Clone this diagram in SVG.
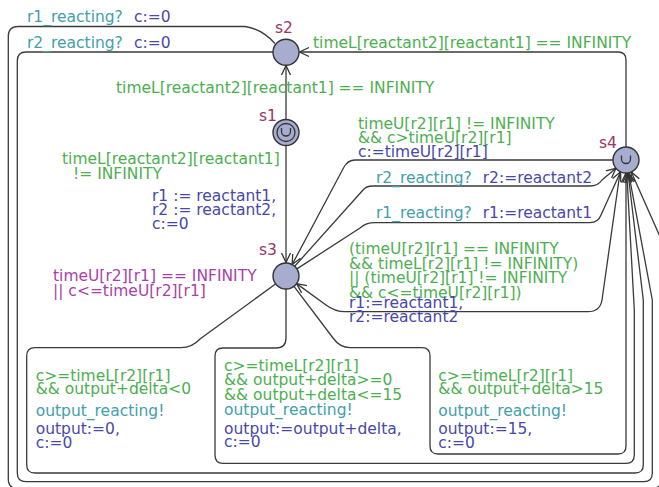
<svg xmlns="http://www.w3.org/2000/svg" width="659" height="487" viewBox="0 0 659 487">
<style>
text{font-family:"DejaVu Sans","Liberation Sans",sans-serif;font-size:15.5px}
.g{fill:#4caf50}
.s{fill:#41a0aa}
.u{fill:#4848aa}
.i{fill:#aa3faa}
.n{fill:#983566}
.e{fill:none;stroke:#3a3a3a;stroke-width:1.3}
.loc{fill:#a6adce;stroke:#333;stroke-width:1.4}
.mk{fill:none;stroke:#333;stroke-width:1.3}
</style>
<defs>
<marker id="arr" viewBox="-11 -6 12 12" refX="0" refY="0" markerWidth="12" markerHeight="12" markerUnits="userSpaceOnUse" orient="auto">
<path d="M-9.5,-4.5 L0,0 L-9.5,4.5" fill="none" stroke="#333" stroke-width="1.3"/>
</marker>
</defs>
<g id="connectors">
<path class="e" marker-end="url(#arr)" d="M286,119 L286,65.5"/>
<path class="e" marker-end="url(#arr)" d="M286,146 L286,262.5"/>
<path class="e" marker-end="url(#arr)" d="M626,147 L626,60 Q626,52 618,52 L299.5,52"/>
<path class="e" marker-end="url(#arr)" d="M275,43.5 Q262,29 245,26.5 L18,26.5 Q8.3,26.5 8.3,36 L8.3,479 Q8.3,488.5 18,488.5 L652,488.5 Q661.5,488.5 661.5,479 L661.5,240 L631.3,171.9"/>
<path class="e" marker-end="url(#arr)" d="M273,52 L26,52 Q17.3,52 17.3,61 L17.3,473 Q17.3,481.7 26,481.7 L644,481.7 Q652.3,481.7 652.3,473 L652.3,300 L628.6,172.8"/>
<path class="e" marker-end="url(#arr)" d="M613,160 L355,160 Q348,160 344,167 L292.2,264.5"/>
<path class="e" marker-end="url(#arr)" d="M620,172.5 L602,300 Q600,311.7 588,311.7 L345,311.7 Q335,311.7 326,305 L296.6,283.6"/>
<path class="e" marker-end="url(#arr)" d="M294.7,266.3 L363,190 Q366,186 373,186 L590,186 Q598,186 602,180 L616,168.3"/>
<path class="e" marker-end="url(#arr)" d="M296.9,268.9 L360,228 Q366,222.7 375,222.7 L590,222.7 Q598,222.7 601,215 L620.6,171.8"/>
<path class="e" marker-end="url(#arr)" d="M275.5,284 L200,339 Q192,347.7 181,347.7 L35,347.7 Q26.7,347.7 26.7,356 L26.7,465 Q26.7,473 35,473 L635,473 Q643.3,473 643.3,465 L643.3,300 L628,173"/>
<path class="e" marker-end="url(#arr)" d="M286,289 L286,338 Q286,348 276,348 L223,348 Q215,348 215,356 L215,455 Q215,463.3 223,463.3 L626,463.3 Q634.3,463.3 634.3,455 L634.3,310 L626.8,173"/>
<path class="e" marker-end="url(#arr)" d="M294,286.3 L333,338 Q340,347.7 350,347.7 L422,347.7 Q430,347.7 430,356 L430,446 Q430,454 438,454 L618,454 Q626,454 626,446 L626,173"/>
</g>
<g id="s1">
<circle class="loc" cx="286" cy="132.5" r="13"/>
<circle class="mk" cx="286" cy="132.5" r="9"/>
<path class="mk" d="M281.5,128 v3.5 a4.5,4.5 0 0 0 9,0 v-3.5"/>
<text class="n" x="259" y="120.5">s1</text>
</g>
<g id="s2">
<circle class="loc" cx="286" cy="52.3" r="13"/>
<text class="n" x="275" y="33">s2</text>
</g>
<g id="s3">
<circle class="loc" cx="286" cy="276" r="13"/>
<text class="n" x="259" y="255">s3</text>
<text class="i" x="53" y="281">timeU[r2][r1] == INFINITY</text>
<text class="i" x="53" y="295.5">|| c&lt;=timeU[r2][r1]</text>
</g>
<g id="s4">
<circle class="loc" cx="626" cy="160" r="13"/>
<path class="mk" d="M621.5,155.5 v3.5 a4.5,4.5 0 0 0 9,0 v-3.5"/>
<text class="n" x="599" y="147.5">s4</text>
</g>
<g id="labels">
<text class="s" x="27" y="22">r1_reacting?</text><text class="u" x="134" y="22">c:=0</text>
<text class="s" x="27" y="48">r2_reacting?</text><text class="u" x="134" y="48">c:=0</text>
<text class="g" x="313" y="48">timeL[reactant2][reactant1] == INFINITY</text>
<text class="g" x="116" y="93">timeL[reactant2][reactant1] == INFINITY</text>
<text class="g" x="62" y="164">timeL[reactant2][reactant1]</text>
<text class="g" x="73" y="179">!= INFINITY</text>
<text class="u" x="152" y="201">r1 := reactant1,</text>
<text class="u" x="152" y="215">r2 := reactant2,</text>
<text class="u" x="152" y="229">c:=0</text>
<text class="g" x="358" y="129">timeU[r2][r1] != INFINITY</text>
<text class="g" x="358" y="143">&amp;&amp; c&gt;timeU[r2][r1]</text>
<text class="u" x="358" y="157">c:=timeU[r2][r1]</text>
<text class="s" x="376" y="182.5">r2_reacting?</text><text class="u" x="482.7" y="182.5">r2:=reactant2</text>
<text class="s" x="376" y="218">r1_reacting?</text><text class="u" x="482.7" y="218">r1:=reactant1</text>
<text class="g" x="349" y="254">(timeU[r2][r1] == INFINITY</text>
<text class="g" x="349" y="268.5">&amp;&amp; timeL[r2][r1] != INFINITY)</text>
<text class="g" x="349" y="283">|| (timeU[r2][r1] != INFINITY</text>
<text class="g" x="349" y="297.5">&amp;&amp; c&lt;=timeU[r2][r1])</text>
<text class="u" x="349" y="308">r1:=reactant1,</text>
<text class="u" x="349" y="322">r2:=reactant2</text>
<text class="g" x="35.7" y="380.7">c&gt;=timeL[r2][r1]</text>
<text class="g" x="35.7" y="394.3">&amp;&amp; output+delta&lt;0</text>
<text class="s" x="35.7" y="415.7">output_reacting!</text>
<text class="u" x="35.7" y="434">output:=0,</text>
<text class="u" x="35.7" y="447.7">c:=0</text>
<text class="g" x="224" y="370.7">c&gt;=timeL[r2][r1]</text>
<text class="g" x="224" y="385">&amp;&amp; output+delta&gt;=0</text>
<text class="g" x="224" y="400">&amp;&amp; output+delta&lt;=15</text>
<text class="s" x="224" y="415">output_reacting!</text>
<text class="u" x="224" y="434">output:=output+delta,</text>
<text class="u" x="224" y="447.3">c:=0</text>
<text class="g" x="438.3" y="380.7">c&gt;=timeL[r2][r1]</text>
<text class="g" x="438.3" y="394.3">&amp;&amp; output+delta&gt;15</text>
<text class="s" x="438.3" y="415.7">output_reacting!</text>
<text class="u" x="438.3" y="434">output:=15,</text>
<text class="u" x="438.3" y="447.7">c:=0</text>
</g>
</svg>
